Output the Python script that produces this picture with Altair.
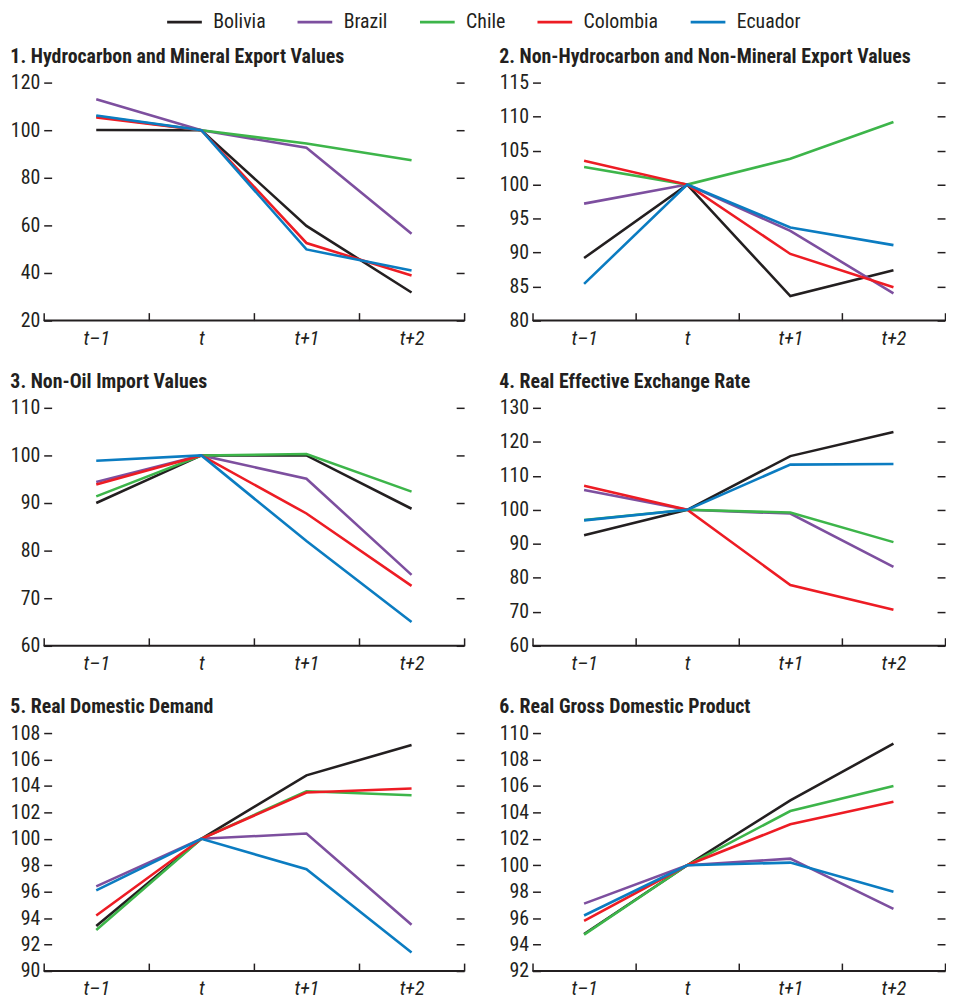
import altair as alt
import pandas as pd

periods = ["t–1", "t", "t+1", "t+2"]
countries = ["Bolivia", "Brazil", "Chile", "Colombia", "Ecuador"]
colors = ["#231f20", "#7d4f9f", "#3db54a", "#ed1c24", "#0b7cc1"]

titles = [
    "1. Hydrocarbon and Mineral Export Values",
    "2. Non-Hydrocarbon and Non-Mineral Export Values",
    "3. Non-Oil Import Values",
    "4. Real Effective Exchange Rate",
    "5. Real Domestic Demand",
    "6. Real Gross Domestic Product",
]

hydro_mineral_exports = {
    "Bolivia": [100.1, 100, 59.8, 31.8],
    "Brazil": [113.0, 100, 92.6, 56.5],
    "Chile": [105.8, 100, 94.4, 87.4],
    "Colombia": [105.4, 100, 52.6, 38.9],
    "Ecuador": [106.2, 100, 49.9, 41.0],
}
other_exports = {
    "Bolivia": [89.2, 100, 83.6, 87.4],
    "Brazil": [97.2, 100, 93.2, 84.0],
    "Chile": [102.6, 100, 103.8, 109.2],
    "Colombia": [103.5, 100, 89.8, 84.9],
    "Ecuador": [85.4, 100, 93.7, 91.1],
}
non_oil_imports = {
    "Bolivia": [90.0, 100, 100.0, 88.8],
    "Brazil": [94.4, 100, 95.1, 74.9],
    "Chile": [91.4, 100, 100.3, 92.4],
    "Colombia": [93.9, 100, 87.8, 72.6],
    "Ecuador": [98.9, 100, 82.0, 65.0],
}
reer = {
    "Bolivia": [92.5, 100, 115.8, 122.9],
    "Brazil": [105.8, 100, 98.9, 83.2],
    "Chile": [97.0, 100, 99.2, 90.5],
    "Colombia": [107.1, 100, 77.9, 70.6],
    "Ecuador": [96.9, 100, 113.3, 113.5],
}
domestic_demand = {
    "Bolivia": [93.4, 100, 104.8, 107.1],
    "Brazil": [96.4, 100, 100.4, 93.5],
    "Chile": [93.1, 100, 103.6, 103.3],
    "Colombia": [94.2, 100, 103.5, 103.8],
    "Ecuador": [96.1, 100, 97.7, 91.4],
}
gdp = {
    "Bolivia": [94.8, 100, 104.9, 109.2],
    "Brazil": [97.1, 100, 100.5, 96.7],
    "Chile": [94.75, 100, 104.1, 106.0],
    "Colombia": [95.8, 100, 103.1, 104.8],
    "Ecuador": [96.2, 100, 100.2, 98.0],
}

series_list = [hydro_mineral_exports, other_exports, non_oil_imports, reer, domestic_demand, gdp]
y_ticks = [
    [20, 40, 60, 80, 100, 120],
    [80, 85, 90, 95, 100, 105, 110, 115],
    [60, 70, 80, 90, 100, 110],
    [60, 70, 80, 90, 100, 110, 120, 130],
    [90, 92, 94, 96, 98, 100, 102, 104, 106, 108],
    [92, 94, 96, 98, 100, 102, 104, 106, 108, 110],
]

W_LEFT, W_RIGHT, H = 424, 416, 240
FONT = "Liberation Sans Narrow, Arial Narrow, Roboto Condensed, Liberation Sans, sans-serif"
INK = "#231f20"


def panel(title, series, ticks, W):
    df = pd.DataFrame(
        [{"period": p, "country": c, "value": v}
         for c, vals in series.items() for p, v in zip(periods, vals)]
    )
    yscale = alt.Scale(domain=[ticks[0], ticks[-1]], nice=False, zero=False)
    x = alt.X(
        "period:N", sort=periods, bandPosition=0.5,
        scale=alt.Scale(type="band", paddingInner=0, paddingOuter=0),
        axis=alt.Axis(title=None, orient="bottom", offset=-8, tickSize=8, domain=False,
                      tickBand="extent", labelPadding=8, labelFontStyle="italic",
                      labelAngle=0, tickColor=INK, tickWidth=1.5),
    )
    lines = alt.Chart(df).mark_line(strokeWidth=2.6).encode(
        x=x,
        y=alt.Y("value:Q", scale=yscale,
                axis=alt.Axis(title=None, orient="left", offset=-8, tickSize=8, domain=False,
                              grid=False, values=ticks, labelPadding=4,
                              tickColor=INK, tickWidth=1.5)),
        color=alt.Color("country:N", scale=alt.Scale(domain=countries, range=colors),
                        legend=alt.Legend(title=None)),
    )
    right = alt.Chart(df).mark_point(opacity=0).encode(
        y=alt.Y("value:Q", scale=yscale,
                axis=alt.Axis(title=None, orient="right", offset=-8, tickSize=8, domain=False,
                              grid=False, values=ticks, labels=False,
                              tickColor=INK, tickWidth=1.5)),
    )
    base = alt.Chart(pd.DataFrame({"k": [0]})).mark_rule(color=INK, strokeWidth=2).encode(
        x=alt.value(0), x2=alt.value(W), y=alt.value(H)
    )
    return alt.layer(lines, right, base).resolve_axis(y="independent").properties(
        width=W, height=H,
        title=alt.TitleParams(title, anchor="start", frame="bounds", font=FONT, fontSize=20,
                              fontWeight="bold", color=INK, offset=6),
    )


panels = [panel(t, s, tk, W_LEFT if i % 2 == 0 else W_RIGHT)
          for i, (t, s, tk) in enumerate(zip(titles, series_list, y_ticks))]
rows = [alt.hconcat(panels[i], panels[i + 1], spacing=34) for i in (0, 2, 4)]

chart = alt.vconcat(*rows, spacing=24).properties(
    padding={"left": 2, "top": -9, "right": 0, "bottom": 0}
).configure_view(stroke=None).configure_axis(
    labelFont=FONT, labelFontSize=20, labelColor=INK,
).configure_legend(
    orient="none", legendX=123, legendY=-80, direction="horizontal",
    symbolType="stroke", symbolSize=1225, symbolStrokeWidth=3,
    labelFont=FONT, labelFontSize=20, labelColor=INK, labelOffset=10,
    columnPadding=25.5, padding=0,
)

chart.save("out.html", embed_options={"renderer": "svg", "actions": False})
